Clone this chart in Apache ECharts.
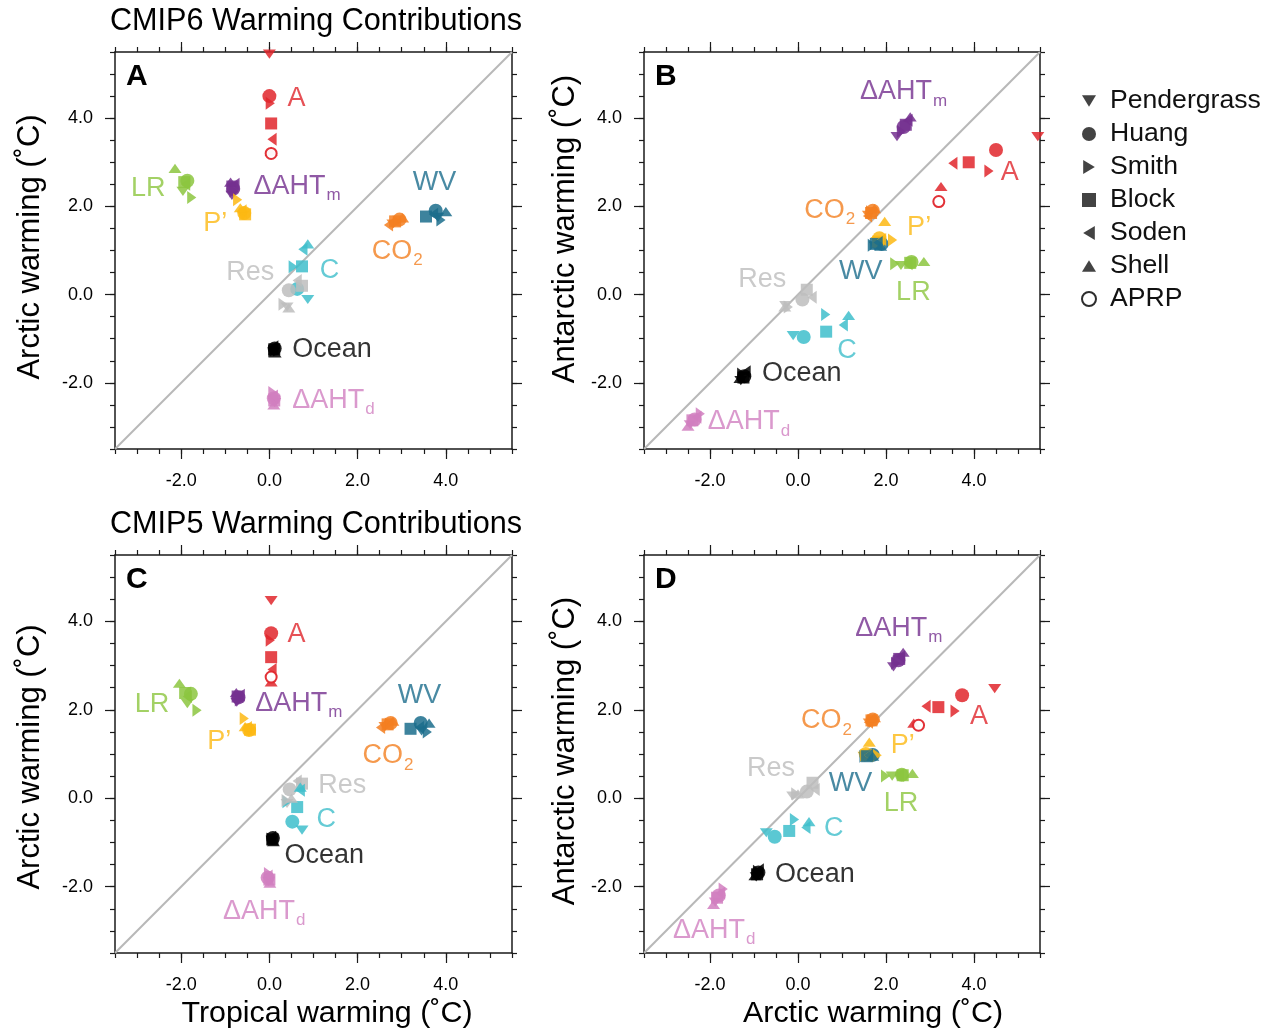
<!DOCTYPE html>
<html>
<head>
<meta charset="utf-8">
<title>Warming Contributions</title>
<script src="https://cdn.jsdelivr.net/npm/echarts@6/dist/echarts.min.js"></script>
<style>
  html, body { margin: 0; padding: 0; background: #fff; }
  #chart { width: 1273px; height: 1033px; }
</style>
</head>
<body>
<div id="chart"></div>
<script>
// Feedback terms (rows) and kernel / decomposition methods (columns)
const feedbacks = ['A', 'LR', 'ΔAHTm', 'P\u2019', 'WV', 'CO2', 'C', 'Res', 'Ocean', 'ΔAHTd'];
const methods = ['Pendergrass', 'Huang', 'Smith', 'Block', 'Soden', 'Shell', 'APRP'];

// CMIP6 warming contributions (°C); columns follow `methods`, null = not available
const cmip6Tropical = [
  [0.00, 0.00, 0.02, 0.04, 0.06, 0.04, 0.04],
  [-1.96, -1.86, -1.76, -1.93, -1.90, -2.14, null],
  [-0.85, -0.82, -0.80, -0.84, -0.78, -0.88, null],
  [-0.60, -0.57, -0.72, -0.55, -0.62, -0.66, null],
  [3.82, 3.77, 3.89, 3.55, 3.72, 4.00, null],
  [2.80, 2.95, 2.90, 2.85, 2.70, 3.02, null],
  [0.87, 0.63, 0.54, 0.74, 0.76, 0.87, null],
  [0.40, 0.44, 0.31, 0.74, 0.63, 0.44, null],
  [0.10, 0.12, 0.08, 0.11, 0.10, 0.13, null],
  [0.12, 0.10, 0.08, 0.11, 0.09, 0.10, null]
];
const cmip6Arctic = [
  [5.45, 4.50, 4.34, 3.88, 3.52, 3.25, 3.20],
  [2.34, 2.58, 2.20, 2.55, 2.50, 2.86, null],
  [2.25, 2.40, 2.35, 2.45, 2.50, 2.55, null],
  [1.80, 1.85, 2.15, 1.82, 1.90, 1.97, null],
  [1.75, 1.90, 1.69, 1.77, 1.82, 1.88, null],
  [1.60, 1.70, 1.65, 1.66, 1.58, 1.74, null],
  [-0.11, 0.13, 0.63, 0.64, 1.03, 1.15, null],
  [-0.28, 0.10, -0.22, 0.20, 0.32, -0.30, null],
  [-1.30, -1.22, -1.28, -1.24, -1.18, -1.32, null],
  [-2.45, -2.35, -2.22, -2.40, -2.30, -2.50, null]
];
const cmip6Antarctic = [
  [3.58, 3.28, 2.80, 3.00, 2.98, 2.45, 2.11],
  [0.66, 0.74, 0.70, 0.72, 0.70, 0.75, null],
  [3.58, 3.80, 3.70, 3.85, 3.95, 4.03, null],
  [1.20, 1.28, 1.24, 1.20, 1.25, 1.66, null],
  [1.10, 1.15, 1.12, 1.15, 1.18, 1.10, null],
  [1.80, 1.90, 1.88, 1.85, 1.78, 1.95, null],
  [-0.93, -0.96, -0.45, -0.84, -0.69, -0.47, null],
  [-0.25, -0.11, -0.28, 0.11, -0.06, -0.28, null],
  [-1.95, -1.85, -1.80, -1.88, -1.75, -1.90, null],
  [-2.95, -2.83, -2.70, -2.85, -2.78, -2.98, null]
];

// CMIP5 warming contributions (°C)
const cmip5Tropical = [
  [0.04, 0.04, 0.02, 0.04, 0.06, 0.04, 0.04],
  [-1.86, -1.78, -1.64, -1.91, -1.86, -2.04, null],
  [-0.74, -0.70, -0.68, -0.72, -0.66, -0.75, null],
  [-0.47, -0.46, -0.57, -0.44, -0.50, -0.55, null],
  [3.45, 3.43, 3.58, 3.20, 3.40, 3.62, null],
  [2.62, 2.75, 2.72, 2.68, 2.52, 2.80, null],
  [0.74, 0.52, 0.40, 0.63, 0.70, 0.70, null],
  [0.40, 0.46, 0.38, 0.74, 0.63, 0.50, null],
  [0.06, 0.08, 0.04, 0.07, 0.05, 0.09, null],
  [-0.02, -0.04, -0.02, 0.00, -0.03, 0.01, null]
];
const cmip5Arctic = [
  [4.47, 3.73, 3.57, 3.19, 2.91, 2.63, 2.74],
  [2.14, 2.36, 1.99, 2.38, 2.30, 2.60, null],
  [2.17, 2.28, 2.22, 2.30, 2.33, 2.39, null],
  [1.50, 1.54, 1.80, 1.55, 1.60, 1.62, null],
  [1.52, 1.70, 1.50, 1.57, 1.60, 1.70, null],
  [1.62, 1.70, 1.68, 1.67, 1.60, 1.74, null],
  [-0.72, -0.53, -0.08, -0.20, 0.18, 0.25, null],
  [-0.12, 0.20, -0.05, 0.33, 0.39, 0.00, null],
  [-0.95, -0.90, -0.92, -0.93, -0.88, -0.98, null],
  [-1.88, -1.80, -1.70, -1.84, -1.76, -1.92, null]
];
const cmip5Antarctic = [
  [2.48, 2.33, 1.97, 2.06, 2.08, 1.70, 1.65],
  [0.50, 0.53, 0.50, 0.52, 0.52, 0.56, null],
  [2.97, 3.12, 3.05, 3.15, 3.20, 3.30, null],
  [0.95, 1.00, 0.97, 0.97, 0.97, 1.27, null],
  [0.93, 0.98, 0.95, 0.95, 0.97, 0.95, null],
  [1.70, 1.78, 1.75, 1.76, 1.72, 1.82, null],
  [-0.78, -0.87, -0.48, -0.74, -0.66, -0.53, null],
  [0.05, 0.15, 0.10, 0.35, 0.20, 0.10, null],
  [-1.78, -1.68, -1.65, -1.72, -1.62, -1.75, null],
  [-2.35, -2.20, -2.05, -2.25, -2.15, -2.40, null]
];

// Axis tick labels
const tickValues = [-2, 0, 2, 4];

// ---------- layout / styling ----------
const FONT = '"Liberation Sans", Arial, Helvetica, sans-serif';
const AX_MIN = -3.5, AX_MAX = 5.5;
const AXIS_COLOR = '#1a1a1a';

// where each feedback's text label sits (data units, left edge / vertical centre)
const labelAnchorsA = [[0.41, 4.41], [-3.14, 2.35], [-0.36, 2.40], [-1.50, 1.56], [3.25, 2.49],
  [2.32, 0.93], [1.14, 0.50], [-0.98, 0.45], [0.52, -1.29], [0.52, -2.44]];
const labelAnchorsB = [[4.61, 2.73], [2.23, 0.00], [1.41, 4.55], [2.48, 1.47], [0.93, 0.47],
  [0.14, 1.86], [0.89, -1.31], [-1.36, 0.29], [-0.82, -1.83], [-2.05, -2.93]];
const labelAnchorsC = [[0.41, 3.66], [-3.05, 2.08], [-0.32, 2.10], [-1.41, 1.24], [2.91, 2.28],
  [2.11, 0.91], [1.07, -0.52], [1.11, 0.25], [0.34, -1.35], [-1.05, -2.61]];
const labelAnchorsD = [[3.91, 1.81], [1.95, -0.16], [1.30, 3.80], [2.11, 1.15], [0.70, 0.29],
  [0.07, 1.70], [0.59, -0.74], [-1.16, 0.63], [-0.52, -1.76], [-2.84, -3.04]];

const feedbackColor = {
  'A': '#e0262c', 'LR': '#8cc63f', 'ΔAHTm': '#74308f', 'P\u2019': '#fdb913', 'WV': '#1b6d8c',
  'CO2': '#f37f21', 'C': '#3ebecb', 'Res': '#bdbdbd', 'Ocean': '#000000', 'ΔAHTd': '#d17fc0'
};
const labelText = {
  'A': '{t|A}', 'LR': '{t|LR}', 'ΔAHTm': '{t|ΔAHT}{s|m}', 'P\u2019': '{t|P\u2019}', 'WV': '{t|WV}',
  'CO2': '{t|CO}{s|2}', 'C': '{t|C}', 'Res': '{t|Res}', 'Ocean': '{t|Ocean}', 'ΔAHTd': '{t|ΔAHT}{s|d}'
};

const TRI_DOWN = 'path://M0,0 L12,0 L6,10 Z';
const TRI_UP = 'path://M6,0 L12,10 L0,10 Z';
const TRI_RIGHT = 'path://M0,0 L10,6 L0,12 Z';
const TRI_LEFT = 'path://M10,0 L0,6 L10,12 Z';
const methodSymbol = {
  Pendergrass: [TRI_DOWN, [13, 11]], Huang: ['circle', 14], Smith: [TRI_RIGHT, [11, 13]],
  Block: ['rect', 12], Soden: [TRI_LEFT, [11, 13]], Shell: [TRI_UP, [13, 11]], APRP: ['emptyCircle', 11]
};

const panels = [
  { grid: { left: 115, top: 52, width: 397, height: 397 }, x: cmip6Tropical, y: cmip6Arctic, anchors: labelAnchorsA },
  { grid: { left: 644, top: 52, width: 396, height: 397 }, x: cmip6Arctic, y: cmip6Antarctic, anchors: labelAnchorsB },
  { grid: { left: 115, top: 555, width: 397, height: 398 }, x: cmip5Tropical, y: cmip5Arctic, anchors: labelAnchorsC },
  { grid: { left: 644, top: 555, width: 396, height: 398 }, x: cmip5Arctic, y: cmip5Antarctic, anchors: labelAnchorsD }
];

// Each side of a panel frame gets a minor-tick axis (every 0.5, with the frame line)
// and a major-tick axis (long ticks + labels at tickValues).
function axesFor(gi, dim) {
  const base = { type: 'value', gridIndex: gi, min: AX_MIN, max: AX_MAX, splitLine: { show: false } };
  const sides = dim === 'x' ? ['bottom', 'top'] : ['left', 'right'];
  const list = [];
  sides.forEach((pos, si) => {
    list.push(Object.assign({}, base, {
      position: pos, interval: 0.5,
      axisLine: { show: true, onZero: false, lineStyle: { color: AXIS_COLOR, width: 1.5 } },
      axisTick: { show: true, length: 5, lineStyle: { color: AXIS_COLOR, width: 1.2 } },
      axisLabel: { show: false }
    }));
    list.push(Object.assign({}, base, {
      position: pos,
      axisLine: { show: false, onZero: false },
      axisTick: { show: true, length: 10, customValues: tickValues, lineStyle: { color: AXIS_COLOR, width: 1.2 } },
      axisLabel: {
        show: si === 0, customValues: tickValues, formatter: v => Number(v).toFixed(1),
        fontSize: 18, fontFamily: FONT, color: '#000', margin: dim === 'x' ? 23 : 22
      }
    }));
  });
  return list;
}

const grids = [], xAxes = [], yAxes = [], series = [];
panels.forEach((p, gi) => {
  grids.push(Object.assign({ containLabel: false }, p.grid));
  xAxes.push(...axesFor(gi, 'x'));
  yAxes.push(...axesFor(gi, 'y'));
  const xi = gi * 4, yi = gi * 4;

  // 1:1 reference line across the full axis range
  series.push({
    type: 'line', name: 'one-to-one', xAxisIndex: xi, yAxisIndex: yi, silent: true, z: 1,
    symbol: 'none', data: [[AX_MIN, AX_MIN], [AX_MAX, AX_MAX]],
    lineStyle: { color: '#b8b8b8', width: 2 }
  });

  // one scatter series per method, coloured per feedback term
  methods.forEach((m, mi) => {
    const data = [];
    feedbacks.forEach((f, fi) => {
      const xv = p.x[fi][mi], yv = p.y[fi][mi];
      if (xv == null || yv == null) return;
      data.push({ value: [xv, yv], name: f, itemStyle: { color: feedbackColor[f] } });
    });
    const [sym, size] = methodSymbol[m];
    series.push({
      type: 'scatter', name: m, xAxisIndex: xi, yAxisIndex: yi, z: 3,
      symbol: sym, symbolSize: size, symbolKeepAspect: true, clip: true,
      itemStyle: m === 'APRP'
        ? { color: '#222', borderWidth: 1.8, opacity: 0.95 }
        : { color: '#222', opacity: 0.85 },
      emphasis: { disabled: true },
      data
    });
  });

  // text labels naming each feedback cluster
  series.push({
    type: 'scatter', name: 'labels-' + gi, xAxisIndex: xi, yAxisIndex: yi, z: 4, silent: true,
    symbolSize: 0,
    data: feedbacks.map((f, fi) => ({
      value: p.anchors[fi], name: f,
      label: {
        rich: {
          t: { fontSize: 27, fontFamily: FONT, color: feedbackColor[f], verticalAlign: 'bottom', padding: [0, 0, 4, 0] },
          s: { fontSize: 17, fontFamily: FONT, color: feedbackColor[f], verticalAlign: 'bottom', padding: [0, 0, 0, 1] }
        }
      }
    })),
    label: { show: true, position: 'right', distance: 0, formatter: d => labelText[d.name] }
  });
});

const headingStyle = { fontSize: 30.6, fontWeight: 'normal', color: '#000', fontFamily: FONT };
const letterStyle = { fontSize: 30, fontWeight: 'bold', color: '#000', fontFamily: FONT };
const axisNameStyle = (text, size) => ({
  text, fontSize: size, fontFamily: FONT, fill: '#000',
  textAlign: 'center', textVerticalAlign: 'middle', align: 'center', verticalAlign: 'middle'
});

const option = {
  backgroundColor: '#ffffff',
  animation: false,
  textStyle: { fontFamily: FONT },
  title: [
    { text: 'CMIP6 Warming Contributions', left: 110, top: 6, padding: 0, textStyle: headingStyle },
    { text: 'CMIP5 Warming Contributions', left: 110, top: 509, padding: 0, textStyle: headingStyle },
    { text: 'A', left: 126, top: 62, padding: 0, textStyle: letterStyle },
    { text: 'B', left: 655, top: 62, padding: 0, textStyle: letterStyle },
    { text: 'C', left: 126, top: 565, padding: 0, textStyle: letterStyle },
    { text: 'D', left: 655, top: 565, padding: 0, textStyle: letterStyle }
  ],
  legend: {
    orient: 'vertical', left: 1081, top: 87, padding: 0,
    itemWidth: 14, itemHeight: 14, itemGap: 5, selectedMode: false,
    data: methods,
    textStyle: { fontSize: 26.6, lineHeight: 28, color: '#111', fontFamily: FONT, padding: [0, 0, 0, 9] }
  },
  graphic: [
    { type: 'text', x: 30, y: 247, rotation: Math.PI / 2, style: axisNameStyle('Arctic warming (\u02DAC)', 31) },
    { type: 'text', x: 565, y: 229, rotation: Math.PI / 2, style: axisNameStyle('Antarctic warming (\u02DAC)', 31) },
    { type: 'text', x: 30, y: 757, rotation: Math.PI / 2, style: axisNameStyle('Arctic warming (\u02DAC)', 31) },
    { type: 'text', x: 565, y: 751, rotation: Math.PI / 2, style: axisNameStyle('Antarctic warming (\u02DAC)', 31) },
    { type: 'text', x: 327, y: 1014, style: axisNameStyle('Tropical warming (\u02DAC)', 30.4) },
    { type: 'text', x: 873, y: 1014, style: axisNameStyle('Arctic warming (\u02DAC)', 30.4) }
  ],
  grid: grids,
  xAxis: xAxes,
  yAxis: yAxes,
  series
};

const chart = echarts.init(document.getElementById('chart'), null, { renderer: 'canvas' });
chart.setOption(option);
</script>
</body>
</html>
